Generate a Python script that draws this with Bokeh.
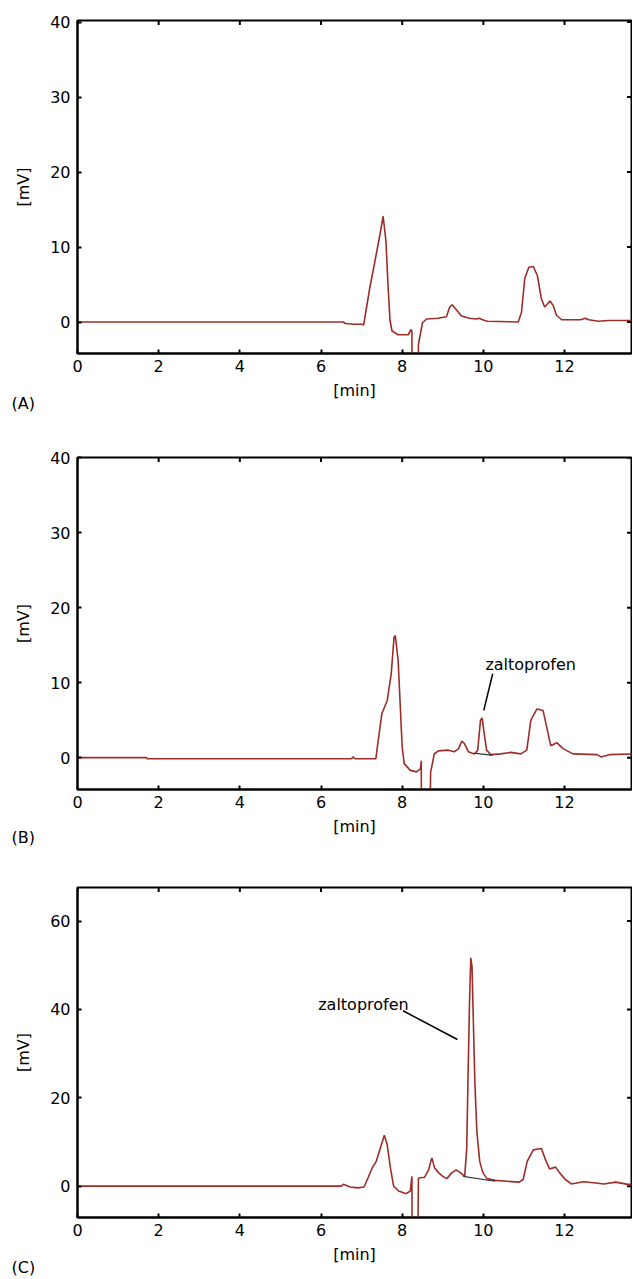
import math
from bokeh.plotting import figure
from bokeh.models import Range1d, FixedTicker, Label, Title
from bokeh.layouts import column
from bokeh.embed import file_html
from bokeh.resources import INLINE

# ---------------- data ----------------
x_ticks = [0, 2, 4, 6, 8, 10, 12]
y_ticks_AB = [0, 10, 20, 30, 40]
y_ticks_C = [0, 20, 40, 60]

# Panel A trace: time [min], signal [mV]
time_A = [0, 6.55, 6.6, 6.8, 7.0, 7.05, 7.2, 7.36, 7.45, 7.53,
          7.6, 7.65, 7.7, 7.75, 7.9, 8.15, 8.22, 8.24, 8.25, 8.38,
          8.40, 8.5, 8.6, 8.88, 9.09, 9.17, 9.23, 9.31, 9.46, 9.66,
          9.82, 9.9, 9.98, 10.1, 10.86, 10.94, 11.02, 11.12, 11.23, 11.33,
          11.43, 11.51, 11.58, 11.64, 11.72, 11.80, 11.93, 12.4, 12.5, 12.6,
          12.83, 13.08, 13.7]
mv_A = [0, 0, -0.2, -0.3, -0.3, -0.4, 4.5, 9.0, 11.6, 14.1,
        10.8, 5.0, 0.2, -1.2, -1.7, -1.7, -1.0, -1.3, -30, -30,
        -3.0, -0.1, 0.4, 0.5, 0.7, 2.0, 2.3, 1.8, 0.8, 0.5,
        0.4, 0.5, 0.3, 0.1, 0.0, 1.3, 5.8, 7.3, 7.4, 6.2,
        3.1, 2.0, 2.4, 2.8, 2.2, 0.9, 0.3, 0.3, 0.5, 0.3,
        0.1, 0.2, 0.2]

# Panel B trace
time_B = [0, 1.7, 1.72, 6.75, 6.79, 6.84, 7.35, 7.41, 7.50, 7.63,
          7.73, 7.80, 7.83, 7.90, 7.95, 8.0, 8.05, 8.2, 8.35, 8.45,
          8.47, 8.49, 8.64, 8.70, 8.79, 8.89, 9.14, 9.29, 9.39, 9.47,
          9.53, 9.63, 9.78, 9.86, 9.93, 9.97, 10.01, 10.08, 10.18, 10.43,
          10.67, 10.92, 11.07, 11.17, 11.32, 11.47, 11.56, 11.66, 11.81, 11.96,
          12.21, 12.8, 12.9, 13.1, 13.7]
mv_B = [0, 0, -0.15, -0.15, 0.1, -0.15, -0.15, 2.3, 5.9, 7.6,
        11.2, 16.1, 16.3, 13.0, 7.2, 1.4, -0.8, -1.7, -1.9, -1.5,
        -0.4, -30, -30, -2.0, 0.5, 0.9, 1.0, 0.8, 1.2, 2.2,
        1.9, 0.8, 0.5, 1.0, 5.0, 5.3, 3.6, 1.0, 0.4, 0.5,
        0.7, 0.5, 1.0, 5.0, 6.5, 6.3, 4.1, 1.6, 2.0, 1.2,
        0.5, 0.4, 0.1, 0.4, 0.5]

# Panel C trace
time_C = [0, 6.5, 6.55, 6.72, 6.91, 7.06, 7.16, 7.26, 7.36, 7.46,
          7.56, 7.63, 7.71, 7.79, 7.91, 8.1, 8.2, 8.24, 8.25, 8.27,
          8.36, 8.40, 8.45, 8.55, 8.65, 8.73, 8.8, 8.9, 9.0, 9.1,
          9.22, 9.33, 9.44, 9.54, 9.59, 9.62, 9.66, 9.69, 9.72, 9.75,
          9.79, 9.84, 9.91, 9.99, 10.09, 10.29, 10.59, 10.88, 10.98, 11.08,
          11.23, 11.43, 11.53, 11.63, 11.78, 11.88, 12.02, 12.17, 12.47, 12.77,
          12.97, 13.26, 13.56, 13.7]
mv_C = [0, 0, 0.4, -0.2, -0.4, -0.2, 1.9, 4.1, 5.6, 8.6,
        11.5, 9.4, 4.1, 0, -1.1, -1.7, -1.1, 2.2, -40, -40,
        -40, 1.8, 1.9, 2.0, 3.7, 6.4, 4.1, 3.0, 2.2, 1.7,
        3.0, 3.7, 3.0, 2.2, 8.6, 23.6, 42, 51.7, 49.8, 38.6,
        23.6, 12.4, 5.6, 3.0, 1.7, 1.3, 1.1, 0.9, 1.5, 5.6,
        8.2, 8.5, 6.0, 3.9, 4.3, 3.0, 1.5, 0.5, 1.0, 0.7,
        0.5, 0.9, 0.4, 0.4]

# integration baselines under the zaltoprofen peak
base_time_B = [9.78, 10.23]
base_mv_B = [0.6, 0.3]
base_time_C = [9.50, 10.29]
base_mv_C = [2.2, 1.1]

peak_label = "zaltoprofen"
panel_tags = ["(A)", "(B)", "(C)"]

# ---------------- styling ----------------
FONT = "DejaVu Sans"
TRACE = "#9e2d2a"
W = 632
X_MAX = 13.65


def make_panel(t, mv, y_rng, y_ticks, tag, tag_valign, height, b_top, b_bottom):
    p = figure(width=W, height=height,
               x_range=Range1d(0, X_MAX), y_range=Range1d(*y_rng),
               output_backend="svg", toolbar_location=None,
               min_border_left=77, min_border_right=1,
               min_border_top=b_top, min_border_bottom=b_bottom,
               x_axis_label="[min]", y_axis_label="[mV]")
    p.grid.visible = False
    p.background_fill_color = "white"
    p.border_fill_color = "white"
    p.outline_line_color = "black"
    p.outline_line_width = 2
    xb = p.below[0]
    yl = p.left[0]
    xb.ticker = FixedTicker(ticks=x_ticks)
    yl.ticker = FixedTicker(ticks=y_ticks)

    for ax in [xb, yl]:
        ax.axis_line_color = "black"
        ax.axis_line_width = 2
        ax.major_tick_in = 4
        ax.major_tick_out = 0
        ax.major_tick_line_width = 2
        ax.major_tick_line_color = "black"
        ax.minor_tick_line_color = None
        ax.major_label_text_font = FONT
        ax.major_label_text_font_size = "16px"
        ax.major_label_text_color = "black"
        ax.axis_label_text_font = FONT
        ax.axis_label_text_font_size = "16px"
        ax.axis_label_text_font_style = "normal"
        ax.axis_label_text_color = "black"
    xb.major_label_standoff = 6
    xb.axis_label_standoff = 6
    yl.major_label_standoff = 7
    yl.axis_label_standoff = 14

    # inward ticks on the top and right edges of the frame
    p.scatter(x_ticks, [y_rng[1]] * len(x_ticks), marker="dash", size=9,
              angle=math.pi / 2, line_color="black", line_width=2)
    p.scatter([X_MAX] * len(y_ticks), y_ticks, marker="dash", size=9,
              line_color="black", line_width=2)

    p.line(t, mv, line_color=TRACE, line_width=1.6)

    # panel tag, left of the x-axis label
    p.add_layout(Title(text=tag, align="left", offset=-66, standoff=-21,
                       vertical_align=tag_valign,
                       text_font=FONT, text_font_size="16px",
                       text_font_style="normal", text_color="black"), "below")
    return p


pA = make_panel(time_A, mv_A, (-4.2, 40.2), y_ticks_AB, panel_tags[0], "bottom", 416, 20, 63)
pB = make_panel(time_B, mv_B, (-4.25, 40.05), y_ticks_AB, panel_tags[1], "top", 436, 41, 63)
pC = make_panel(time_C, mv_C, (-7.1, 67.6), y_ticks_C, panel_tags[2], "bottom", 427, 35, 62)

# panel B annotation
pB.line(base_time_B, base_mv_B, line_color="#333333", line_width=1.2)
pB.add_layout(Label(x=10.05, y=12.4, text=peak_label, text_font=FONT,
                    text_font_size="16px", text_baseline="alphabetic",
                    text_color="black"))
pB.segment(x0=[10.23], y0=[11.2], x1=[10.01], y1=[6.3],
           line_color="black", line_width=1.5)

# panel C annotation
pC.line(base_time_C, base_mv_C, line_color="#333333", line_width=1.2)
pC.add_layout(Label(x=5.93, y=41.2, text=peak_label, text_font=FONT,
                    text_font_size="16px", text_baseline="alphabetic",
                    text_color="black"))
pC.segment(x0=[8.02], y0=[39.7], x1=[9.36], y1=[33.2],
           line_color="black", line_width=1.5)

layout = column(pA, pB, pC, spacing=0)
open("out.html", "w").write(file_html(layout, INLINE))
